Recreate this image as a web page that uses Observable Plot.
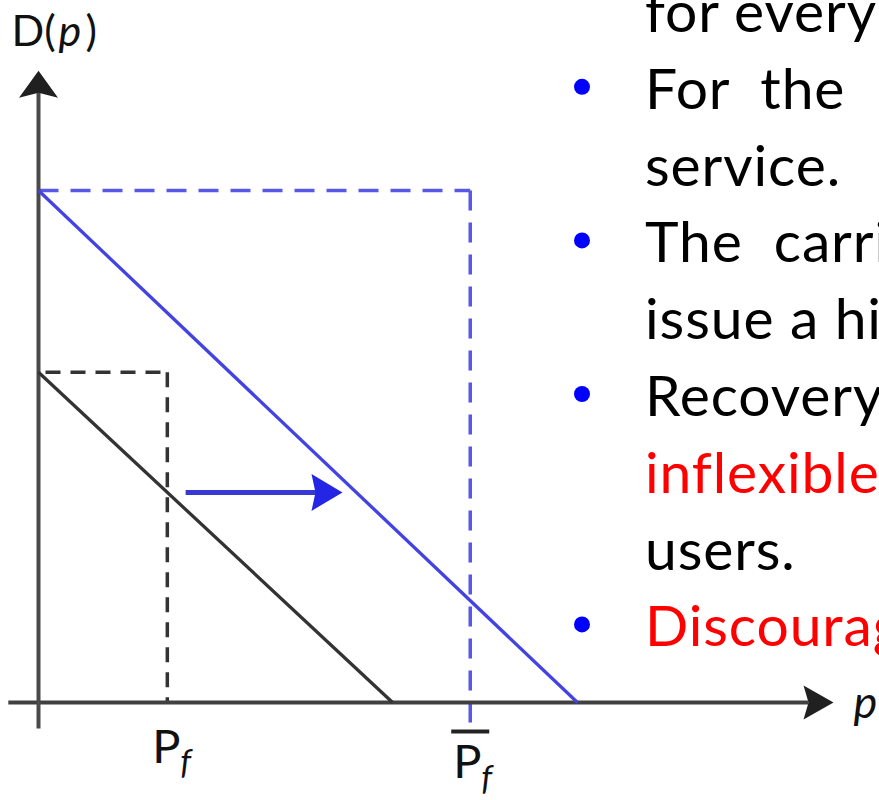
<!DOCTYPE html>
<html><head><meta charset="utf-8">
<script src="https://cdn.jsdelivr.net/npm/d3@7"></script>
<script src="https://cdn.jsdelivr.net/npm/@observablehq/plot@0.6"></script>
<style>
html,body{margin:0;padding:0;background:#fff;overflow:hidden;}
#wrap{position:relative;width:879px;height:800px;overflow:hidden;background:#fff;}
#chart,#notes{position:absolute;left:0;top:0;}
</style></head><body>
<div id="wrap"><div id="chart"></div><div id="notes"></div></div>
<script>
// ---- data (demand curves: base and shifted) ----
const curveNames = ["base", "shifted"];
const demandAtZeroPrice = [64.5, 100];   // D(0)
const priceAtZeroDemand = [65.7, 100];   // p where D(p)=0
const flatRate = [23.9, 80.1];           // P_f and P̄_f
const guideBottom = [0, -5.1];           // where the vertical guides stop
const shiftFrom = [27.3];                // arrow start (p)
const shiftTo = [56.4];                  // arrow tip (p)
const axisXExtent = [-5.6, 147.5];
const axisYExtent = [-5.1, 123.4];

// ---- slide text ----
const noteLines = ["for every", "For  the", "service.", "The  carrier", "issue a high", "Recovery", "inflexible", "users.", "Discourage"];
const noteBullet = [false, true, false, true, false, true, false, false, true];
const noteRed = [false, false, false, false, false, false, true, false, true];

const kx = 539 / 100, ky = 512 / 100; // px per unit (matches scale ranges below)

const head = (w, l, notch) => ({
  draw(ctx, size) {
    const s = Math.sqrt(size / Math.PI) / 10;
    ctx.moveTo(0, 0);
    ctx.lineTo(w / 2 * s, l * s);
    ctx.lineTo(0, (l - notch) * s);
    ctx.lineTo(-w / 2 * s, l * s);
    ctx.closePath();
  }
});

const idx = d3.range(curveNames.length);
const lineColor = i => (i ? "#4343e2" : "#333333");
const dashColor = i => (i ? "#5858e4" : "#333333");
const dashPattern = ["15,10", "20,12"];
const font = "Lato, 'Open Sans', sans-serif";
const shiftY = demandAtZeroPrice[0] * (1 - flatRate[0] / priceAtZeroDemand[0]);

const plot = Plot.plot({
  width: 879,
  height: 800,
  margin: 0,
  x: {domain: [0, 100], range: [38, 577], axis: null},
  y: {domain: [0, 100], range: [702, 190], axis: null},
  color: {type: "identity"},
  style: {background: "transparent", fontFamily: font},
  marks: [
    // dashed guide boxes
    ...idx.map(i => Plot.link([i], {x1: i ? 0 : 1.3, y1: demandAtZeroPrice[i], x2: flatRate[i], y2: demandAtZeroPrice[i],
      stroke: dashColor(i), strokeWidth: 3.5, strokeDasharray: dashPattern[i]})),
    ...idx.map(i => Plot.link([i], {x1: flatRate[i], y1: demandAtZeroPrice[i], x2: flatRate[i], y2: guideBottom[i],
      stroke: dashColor(i), strokeWidth: 3.5, strokeDasharray: dashPattern[i]})),
    // axes
    Plot.link([0], {x1: axisXExtent[0], y1: 0, x2: axisXExtent[1] - 25 / kx, y2: 0, stroke: "#404040", strokeWidth: 4}),
    Plot.link([0], {x1: 0, y1: axisYExtent[0], x2: 0, y2: axisYExtent[1] - 22 / ky, stroke: "#4a4a4a", strokeWidth: 4}),
    Plot.dot([0], {x: axisXExtent[1], y: 0, r: 10, symbol: head(34, 30, 5), rotate: 90, fill: "#202020", stroke: "none"}),
    Plot.dot([0], {x: 0, y: axisYExtent[1], r: 10, symbol: head(39, 27, 5), rotate: 0, fill: "#202020", stroke: "none"}),
    // demand curves
    Plot.link(idx, {x1: 0, y1: i => demandAtZeroPrice[i], x2: i => priceAtZeroDemand[i], y2: 0,
      stroke: lineColor, strokeWidth: 3.3}),
    // shift arrow
    Plot.link([0], {x1: shiftFrom[0], y1: shiftY, x2: shiftTo[0] - 26 / kx, y2: shiftY, stroke: "#3838d4", strokeWidth: 5}),
    Plot.dot([0], {x: shiftTo[0], y: shiftY, r: 10, symbol: head(37, 31, 4), rotate: 90, fill: "#2525e6", stroke: "none"}),
    // overline of P̄_f
    Plot.link([0], {x1: flatRate[1] - 19 / kx, y1: -5.66, x2: flatRate[1] + 19 / kx, y2: -5.66, stroke: "#222", strokeWidth: 4}),
    // labels
    Plot.text(["D("], {x: 0, y: axisYExtent[1], text: d => d, textAnchor: "start", lineAnchor: "bottom", dx: -27, dy: -25, fontSize: 43, fill: "#111"}),
    Plot.text(["p"], {x: 0, y: axisYExtent[1], text: d => d, textAnchor: "start", lineAnchor: "bottom", dx: 20, dy: -25, fontSize: 43, fontStyle: "italic", fill: "#111"}),
    Plot.text([")"], {x: 0, y: axisYExtent[1], text: d => d, textAnchor: "start", lineAnchor: "bottom", dx: 47, dy: -25, fontSize: 43, fill: "#111"}),
    Plot.text(["P"], {x: flatRate[0], y: 0, text: d => d, textAnchor: "start", lineAnchor: "bottom", dx: -15, dy: 60, fontSize: 47, fill: "#111"}),
    Plot.text(["f"], {x: flatRate[0], y: 0, text: d => d, textAnchor: "start", lineAnchor: "bottom", dx: 13, dy: 71, fontSize: 34, fontStyle: "italic", fill: "#111"}),
    Plot.text(["P"], {x: flatRate[1], y: 0, text: d => d, textAnchor: "start", lineAnchor: "bottom", dx: -17, dy: 75, fontSize: 47, fill: "#111"}),
    Plot.text(["f"], {x: flatRate[1], y: 0, text: d => d, textAnchor: "start", lineAnchor: "bottom", dx: 11, dy: 87, fontSize: 34, fontStyle: "italic", fill: "#111"}),
    Plot.text(["p"], {x: axisXExtent[1], y: 0, text: d => d, textAnchor: "start", lineAnchor: "bottom", dx: 20, dy: 15, fontSize: 45, fontStyle: "italic", fill: "#111"})
  ]
});
document.getElementById("chart").appendChild(plot);

// slide bullet text overlay
const svg = d3.select("#notes").append("svg").attr("width", 879).attr("height", 800)
  .style("font-family", font);
const g = svg.selectAll("g").data(noteLines).join("g")
  .attr("transform", (d, i) => `translate(0,${32 + i * 76.8})`);
g.append("text").attr("x", 645).attr("y", 0)
  .attr("font-size", 57).attr("letter-spacing", 0.9).style("white-space", "pre")
  .attr("fill", (d, i) => (noteRed[i] ? "#ff0000" : "#000"))
  .text(d => d);
g.filter((d, i) => noteBullet[i]).append("circle")
  .attr("cx", 582).attr("cy", -22).attr("r", 8).attr("fill", "#0000ff");
</script>
</body></html>
